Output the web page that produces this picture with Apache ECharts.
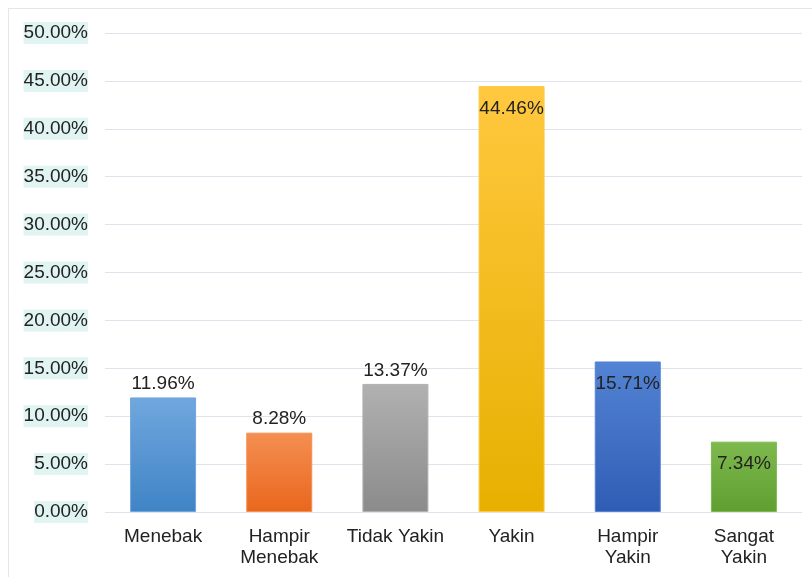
<!DOCTYPE html>
<html>
<head>
<meta charset="utf-8">
<script src="https://cdn.jsdelivr.net/npm/echarts@6/dist/echarts.min.js"></script>
<style>
  html, body { margin: 0; padding: 0; background: #fff; }
  #main { width: 812px; height: 577px; }
</style>
</head>
<body>
<div id="main"></div>
<script>
var categories = ['Menebak', 'Hampir\nMenebak', 'Tidak Yakin', 'Yakin', 'Hampir\nYakin', 'Sangat\nYakin'];
var values = [11.96, 8.28, 13.37, 44.46, 15.71, 7.34];
// where the value label sits for each bar
var labelPos = ['top', 'top', 'top', 'insideTop', 'insideTop', 'insideTop'];
var colorsTop = ['#71a7de', '#f48f52', '#b1b1b1', '#ffc83f', '#5383d4', '#7fb94e'];
var colorsBottom = ['#3f84c6', '#e9671c', '#8b8b8b', '#e7b000', '#2f5db5', '#5e9f30'];

var font = '"Liberation Sans", Arial, sans-serif';

var myChart = echarts.init(document.getElementById('main'));

var option = {
    animation: false,
    textStyle: { fontFamily: font },
    graphic: [
        { type: 'line', shape: { x1: 8, y1: 8.5, x2: 812, y2: 8.5 }, style: { stroke: '#e6e6e6', lineWidth: 1 } },
        { type: 'line', shape: { x1: 8.5, y1: 8, x2: 8.5, y2: 577 }, style: { stroke: '#e6e6e6', lineWidth: 1 } }
    ],
    grid: { left: 105, right: 10, top: 33, bottom: 65 },
    xAxis: {
        type: 'category',
        data: categories,
        axisLine: { show: false },
        axisTick: { show: false },
        axisLabel: {
            color: '#222',
            fontSize: 19,
            fontFamily: font,
            lineHeight: 21,
            margin: 14,
            interval: 0
        }
    },
    yAxis: {
        type: 'value',
        min: 0,
        max: 50,
        interval: 5,
        axisLine: { show: false },
        axisTick: { show: false },
        splitLine: { lineStyle: { color: '#dfe4ec', width: 1 } },
        axisLabel: {
            color: '#222',
            fontSize: 19,
            fontFamily: font,
            margin: 17,
            lineHeight: 22,
            backgroundColor: '#e0f4f1',
            padding: 0,
            formatter: function (v) { return v.toFixed(2) + '%' }
        }
    },
    series: [{
        type: 'bar',
        barWidth: 66,
        data: values.map(function (v, i) {
            return {
                value: v,
                itemStyle: {
                    color: new echarts.graphic.LinearGradient(0, 0, 0, 1, [
                        { offset: 0, color: colorsTop[i] },
                        { offset: 1, color: colorsBottom[i] }
                    ]),
                    borderColor: colorsTop[i],
                    borderWidth: 1
                },
                label: {
                    position: labelPos[i],
                    distance: labelPos[i] === 'top' ? 4 : 13
                }
            };
        }),
        label: {
            show: true,
            color: '#222',
            fontSize: 19,
            fontFamily: font,
            formatter: function (p) { return p.value.toFixed(2) + '%' }
        }
    }]
};

myChart.setOption(option);
</script>
</body>
</html>
